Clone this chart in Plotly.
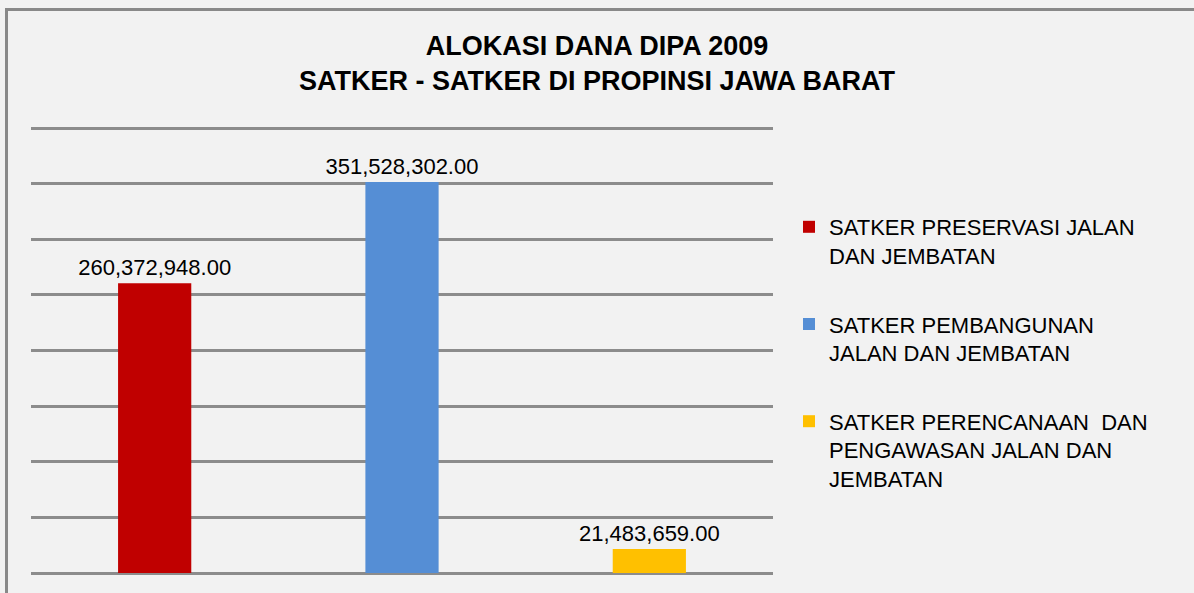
import plotly.graph_objects as go

names = [
    "SATKER PRESERVASI JALAN<br>DAN JEMBATAN",
    "SATKER PEMBANGUNAN<br>JALAN DAN JEMBATAN",
    "SATKER PERENCANAAN  DAN<br>PENGAWASAN JALAN DAN<br>JEMBATAN",
]
values = [260372948.00, 351528302.00, 21483659.00]
labels = ["260,372,948.00", "351,528,302.00", "21,483,659.00"]
colors = ["#c00000", "#558ed5", "#ffc000"]

fig = go.Figure()
for i in range(3):
    fig.add_trace(go.Bar(
        x=[i], y=[values[i]], name=names[i], width=0.296,
        marker=dict(color=colors[i], line=dict(width=0)),
        text=[labels[i]], textposition="outside", cliponaxis=False,
        constraintext="none",
        textfont=dict(size=22, color="#000000"),
        legendgroup=str(i),
    ))

# plot area: x 31..773, y 126..573 so that 400M lands at y=128
ph = 447
fig.update_layout(
    width=1194, height=593,
    margin=dict(l=31, r=421, t=573 - ph, b=20),
    paper_bgcolor="#f2f2f2", plot_bgcolor="#f2f2f2",
    font=dict(family="Liberation Sans, Arial, sans-serif", color="#000000"),
    title=dict(
        text="<b>ALOKASI DANA DIPA 2009<br>SATKER - SATKER DI PROPINSI JAWA BARAT</b>",
        x=0.5, xref="container", xanchor="center",
        y=0.907, yref="container", yanchor="middle",
        font=dict(size=27),
    ),
    barmode="overlay",
    showlegend=True,
    legend=dict(
        x=(789 - 31) / 742, xanchor="left", y=(573 - 206) / ph, yanchor="top",
        font=dict(size=22), tracegroupgap=37, valign="top",
        bgcolor="rgba(0,0,0,0)", itemwidth=30,
    ),
    xaxis=dict(range=[-0.5, 2.5], showticklabels=False, showgrid=False,
               zeroline=False, fixedrange=True),
    yaxis=dict(range=[0, 400e6 * ph / 445], tick0=0, dtick=50e6, showticklabels=False,
               showgrid=True, gridcolor="#8c8c8c", gridwidth=3,
               zeroline=True, zerolinecolor="#8c8c8c", zerolinewidth=3),
    shapes=[dict(type="rect", xref="paper", yref="paper",
                 x0=(6.5 - 31) / 742, x1=(1210 - 31) / 742,
                 y0=(573 - 9.5) / ph, y1=(573 - 610) / ph,
                 line=dict(color="#898989", width=3), fillcolor="rgba(0,0,0,0)",
                 layer="above")],
)

# page has an 8px body margin by default; drop it so the figure sits at 0,0
fig.write_html("out.html", config={"displayModeBar": False},
               post_script="document.body.style.margin='0px';")
